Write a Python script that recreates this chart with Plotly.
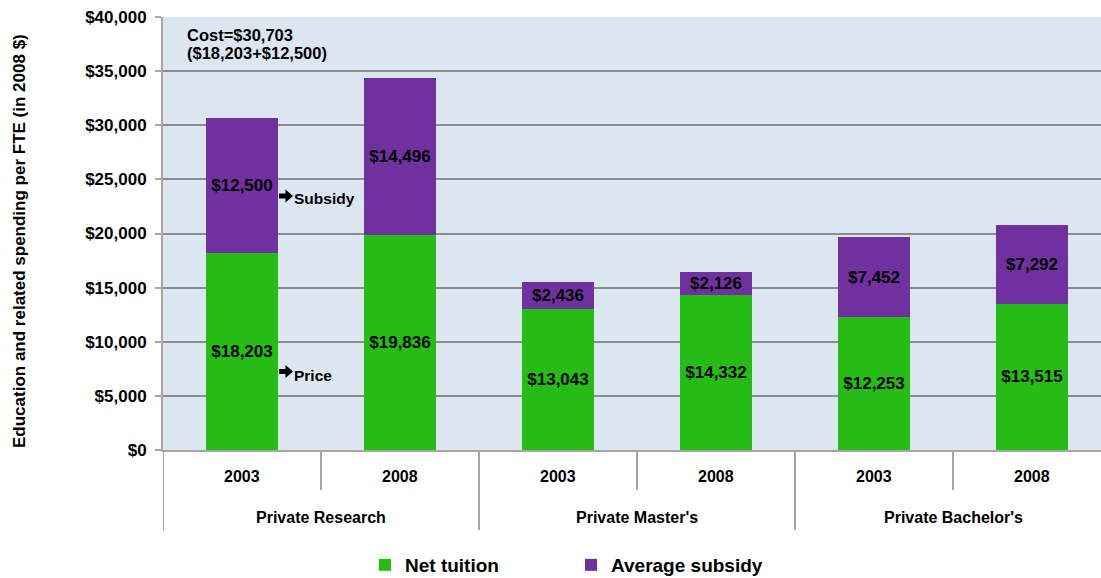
import plotly.graph_objects as go

groups = ["Private Research", "Private Master's", "Private Bachelor's"]
years = ["2003", "2008"]
categories = [f"{g} {y}" for g in groups for y in years]
net_tuition = [18203, 19836, 13043, 14332, 12253, 13515]
avg_subsidy = [12500, 14496, 2436, 2126, 7452, 7292]
y_ticks = [0, 5000, 10000, 15000, 20000, 25000, 30000, 35000, 40000]

GREEN = "#25BC14"
PURPLE = "#7030A0"
FONT = "Liberation Sans, Arial, sans-serif"

def money(v):
    return "${:,}".format(v)

fig = go.Figure()
fig.add_trace(go.Bar(
    x=categories, y=net_tuition, name="<b>Net tuition</b>",
    marker=dict(color=GREEN, line=dict(width=0)),
    text=[f"<b>{money(v)}</b>" for v in net_tuition],
    textposition="inside", insidetextanchor="middle", constraintext="none",
    textfont=dict(size=17, color="black", family=FONT),
))
fig.add_trace(go.Bar(
    x=categories, y=avg_subsidy, name="<b>Average subsidy</b>",
    marker=dict(color=PURPLE, line=dict(width=0)),
    text=[f"<b>{money(v)}</b>" for v in avg_subsidy],
    textposition="inside", insidetextanchor="middle", constraintext="none",
    textfont=dict(size=17, color="black", family=FONT),
))

L, T, B = 163, 17, 128
H = 578 - T - B
W = 1101 - L

def py(pix):
    return (450 - pix) / H

def px(pix):
    return (pix - L) / W

shapes = []
for i in range(0, 7):
    xb = i - 0.5
    long_line = (i % 2 == 0)
    y1 = py(530) if long_line else py(490)
    shapes.append(dict(type="line", xref="x", yref="paper", x0=xb, x1=xb,
                       y0=0, y1=y1, line=dict(color="#A6A6A6", width=2)))

# block arrows next to the first bar
def arrow_path(x0, yc):
    pts = [(x0, yc - 2.5), (x0 + 6.5, yc - 2.5), (x0 + 6.5, yc - 6.5), (x0 + 14, yc),
           (x0 + 6.5, yc + 6.5), (x0 + 6.5, yc + 2.5), (x0, yc + 2.5)]
    d = "M " + " L ".join(f"{px(a):.5f},{py(b):.5f}" for a, b in pts) + " Z"
    return d

for yc in (196, 371.5):
    shapes.append(dict(type="path", xref="paper", yref="paper", path=arrow_path(279, yc),
                       fillcolor="black", line=dict(width=0)))

annotations = []
for i, c in enumerate(categories):
    annotations.append(dict(x=c, y=py(476), xref="x", yref="paper", yanchor="middle",
                            text=f"<b>{years[i % 2]}</b>", showarrow=False,
                            font=dict(size=16, color="black", family=FONT)))
for gi, g in enumerate(groups):
    annotations.append(dict(x=gi * 2 + 0.5, y=py(517), xref="x", yref="paper", yanchor="middle",
                            text=f"<b>{g}</b>", showarrow=False,
                            font=dict(size=16, color="black", family=FONT)))

annotations += [
    dict(x=px(185), y=py(35), xref="paper", yref="paper", xanchor="left", yanchor="middle",
         text="<b>Cost=$30,703</b>", showarrow=False,
         font=dict(size=16.5, color="black", family=FONT)),
    dict(x=px(185), y=py(53), xref="paper", yref="paper", xanchor="left", yanchor="middle",
         text="<b>($18,203+$12,500)</b>", showarrow=False,
         font=dict(size=16.5, color="black", family=FONT)),
    dict(x=px(292), y=py(199), xref="paper", yref="paper", xanchor="left", yanchor="middle",
         text="<b>Subsidy</b>", showarrow=False,
         font=dict(size=15.5, color="black", family=FONT)),
    dict(x=px(292), y=py(375), xref="paper", yref="paper", xanchor="left", yanchor="middle",
         text="<b>Price</b>", showarrow=False,
         font=dict(size=15.5, color="black", family=FONT)),
    dict(x=px(19), y=py(241), xref="paper", yref="paper", xanchor="center", yanchor="middle",
         text="<b>Education and related spending per FTE (in 2008 $)</b>", textangle=-90,
         showarrow=False, font=dict(size=17, color="black", family=FONT)),
]

fig.update_layout(
    width=1101, height=578, autosize=False,
    margin=dict(l=L, r=0, t=T, b=B, autoexpand=False),
    barmode="stack", bargap=0.544,
    plot_bgcolor="#DCE6F1", paper_bgcolor="white",
    font=dict(family=FONT, color="black"),
    showlegend=True,
    legend=dict(orientation="h", traceorder="normal",
                x=px(365), xanchor="left", y=py(565), yanchor="middle",
                entrywidth=161, entrywidthmode="pixels",
                font=dict(size=19, color="black", family=FONT),
                bgcolor="rgba(0,0,0,0)", itemclick=False),
    xaxis=dict(type="category", range=[-0.5, 5.5 - 10 / 158], showticklabels=False,
               showgrid=False, showline=True, linecolor="#A6A6A6", linewidth=2,
               ticks="", fixedrange=True, automargin=False),
    yaxis=dict(range=[0, 40000], tickvals=y_ticks,
               ticktext=[f"<b>{money(v)}</b>" for v in y_ticks],
               tickfont=dict(size=17, color="black", family=FONT),
               ticklabelstandoff=5,
               showgrid=True, gridcolor="#8C8C8C", gridwidth=1.5,
               showline=True, linecolor="#A6A6A6", linewidth=2,
               ticks="outside", ticklen=6, tickcolor="#A6A6A6", tickwidth=1.5,
               zeroline=False, automargin=False),
    shapes=shapes,
    annotations=annotations,
)

fig.write_html("out.html", config={"responsive": False, "displayModeBar": False},
               post_script="document.body.style.margin='0';document.body.style.overflow='hidden';")
